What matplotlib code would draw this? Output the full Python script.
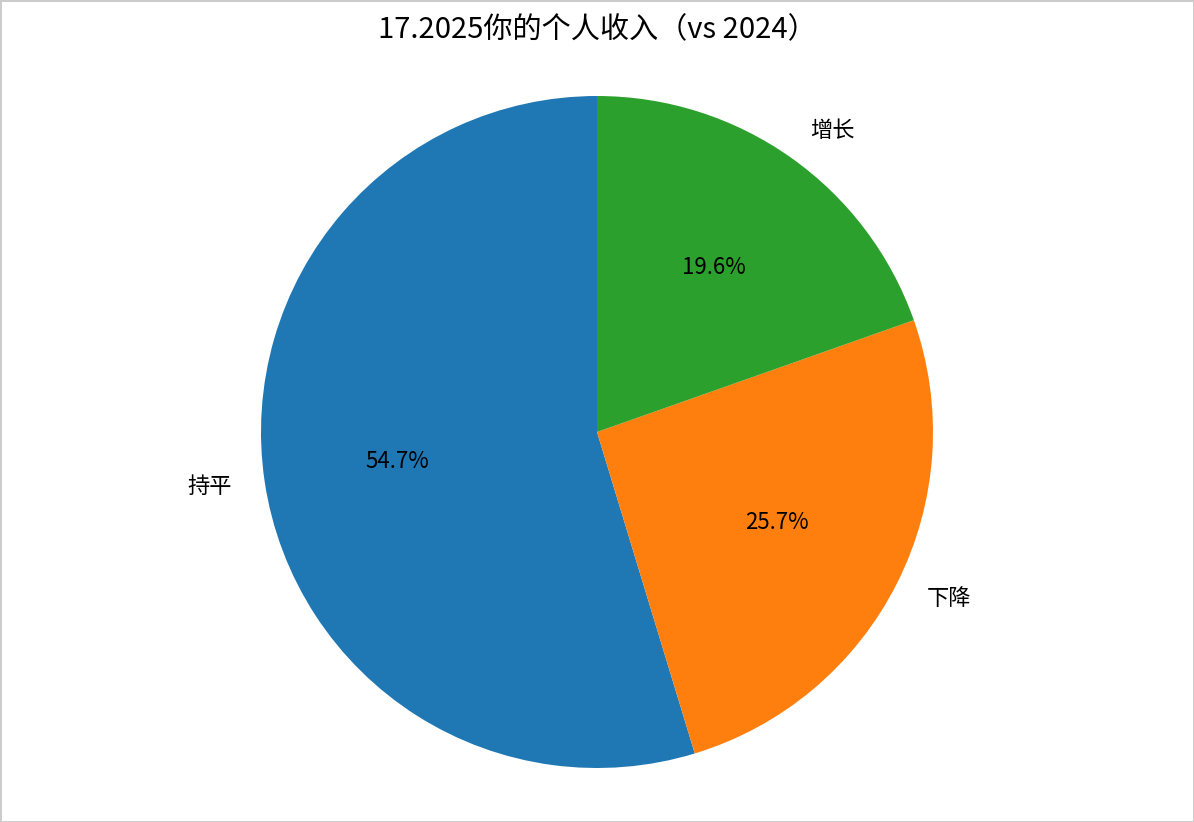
import matplotlib
matplotlib.use('Agg')
import matplotlib.pyplot as plt

plt.rcParams['font.family'] = ['Noto Sans CJK SC', 'DejaVu Sans']

labels = ['持平', '下降', '增长']
values = [54.7, 25.7, 19.6]
colors = ['#1f77b4', '#ff7f0e', '#2ca02c']
title = '17.2025你的个人收入（vs 2024）'

W, H = 1194, 822
cx, cy, r = 597, 432, 336

fig = plt.figure(figsize=(W / 100, H / 100), dpi=100,
                 facecolor='white', edgecolor='#cccccc', linewidth=2)
ax = fig.add_axes([0, (H - cy - r) / H, 1, 2 * r / H])
ax.pie(values, labels=labels, colors=colors, autopct='%1.1f%%',
       startangle=90, counterclock=True,
       textprops={'fontsize': 16})
ax.set_xlim(-cx / r, (W - cx) / r)
ax.set_ylim(-1, 1)
ax.set_aspect('auto')
ax.axis('off')

fig.text(cx / W, 1 - 30 / H, title, ha='center', va='center', fontsize=21)

fig.savefig('out.png', dpi=100, facecolor='white', edgecolor='#cccccc')
